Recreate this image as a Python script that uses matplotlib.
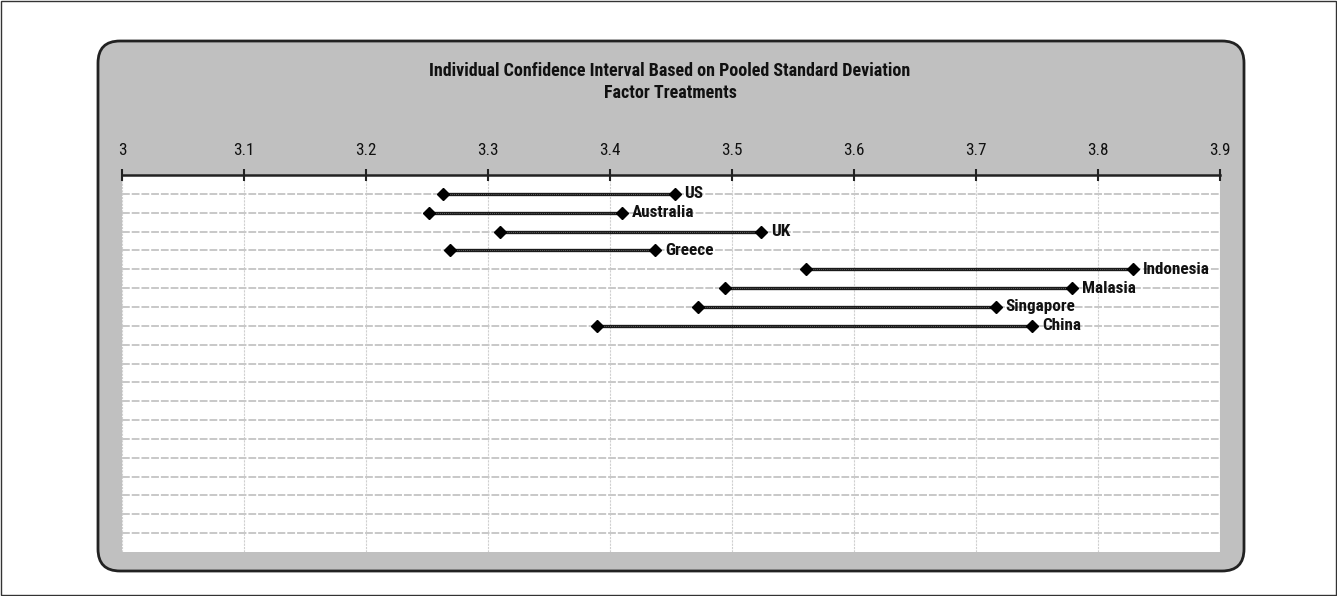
import matplotlib
matplotlib.use("Agg")
import matplotlib.pyplot as plt
from matplotlib import font_manager
from matplotlib.patches import FancyBboxPatch, Rectangle

# interval data
countries = ['US', 'Australia', 'UK', 'Greece', 'Indonesia', 'Malasia', 'Singapore', 'China']
lower = [3.263, 3.252, 3.310, 3.269, 3.561, 3.494, 3.472, 3.389]
upper = [3.453, 3.410, 3.524, 3.437, 3.829, 3.779, 3.716, 3.746]
xticks = [3.0, 3.1, 3.2, 3.3, 3.4, 3.5, 3.6, 3.7, 3.8, 3.9]
xtick_labels = ['3', '3.1', '3.2', '3.3', '3.4', '3.5', '3.6', '3.7', '3.8', '3.9']
n_rows = 20

# pick a narrow font if there is one
installed = {f.name for f in font_manager.fontManager.ttflist}
cands = ['Liberation Sans Narrow', 'Roboto Condensed', 'DejaVu Sans Condensed',
         'Open Sans Condensed', 'Noto Sans Condensed', 'Liberation Sans']
main_font = next((c for c in cands if c in installed), 'DejaVu Sans')
plt.rcParams['font.family'] = [main_font, 'DejaVu Sans']
narrow = main_font != 'Liberation Sans'
fs = 12.3 if narrow else 10.5
fs_title = 13 if narrow else 11

W, H = 1337, 596
fig = plt.figure(figsize=(W / 100, H / 100), dpi=100)
fig.patch.set_facecolor('white')

# background layer in pixel coords
bg = fig.add_axes([0, 0, 1, 1], zorder=0)
bg.set_xlim(0, W)
bg.set_ylim(H, 0)
bg.axis('off')
bg.add_patch(Rectangle((0.5, 0.5), W - 1.5, H - 1.5, fill=False, ec='#333333', lw=1))
bg.add_patch(FancyBboxPatch((98, 41), 1146, 530, boxstyle='round,pad=0,rounding_size=22',
                            fc='#c0c0c0', ec='#222222', lw=2))
bg.text(670, 71, 'Individual Confidence Interval Based on Pooled Standard Deviation',
        ha='center', va='center', fontsize=fs_title, fontweight='bold', color='#111111')
bg.text(670, 93, 'Factor Treatments', ha='center', va='center',
        fontsize=fs_title, fontweight='bold', color='#111111')

# main plot area
ax = fig.add_axes([122 / W, 1 - 552 / H, (1220 - 122) / W, (552 - 175) / H], zorder=1)
ax.set_facecolor('white')
ax.set_xlim(3.0, 3.9)
ax.set_ylim(n_rows, 0)

for s in ['left', 'right', 'bottom']:
    ax.spines[s].set_visible(False)
ax.spines['top'].set_linewidth(1.8)
ax.spines['top'].set_color('#222222')

ax.xaxis.tick_top()
ax.set_xticks(xticks)
ax.set_xticklabels(xtick_labels, fontsize=fs, color='#111111')
ax.tick_params(axis='x', direction='inout', length=8, width=1.5, pad=8, colors='#222222')
ax.tick_params(axis='x', labelcolor='#111111')
ax.set_yticks(range(1, n_rows))
ax.tick_params(axis='y', left=False, labelleft=False)

ax.grid(True, axis='x', color='#d0d0d0', lw=0.8, ls=(0, (2, 1)))
ax.grid(True, axis='y', color='#c8c8c8', lw=1.4, ls=(0, (4, 1)))
ax.set_axisbelow(True)

for i, name in enumerate(countries):
    y = i + 1
    ax.plot([lower[i], upper[i]], [y, y], color='#1a1a1a', lw=2.4, solid_capstyle='butt', zorder=3)
    ax.plot([lower[i], upper[i]], [y, y], color='#777777', lw=0.6, ls=(0, (1, 1.5)), zorder=4)
    ax.plot([lower[i], upper[i]], [y, y], ls='none', marker='D', ms=6,
            color='black', zorder=5)
    ax.text(upper[i] + 0.008, y, name, ha='left', va='center', fontsize=fs,
            fontweight='bold', color='#111111', zorder=6)

fig.savefig('out.png', dpi=100, facecolor='white')
